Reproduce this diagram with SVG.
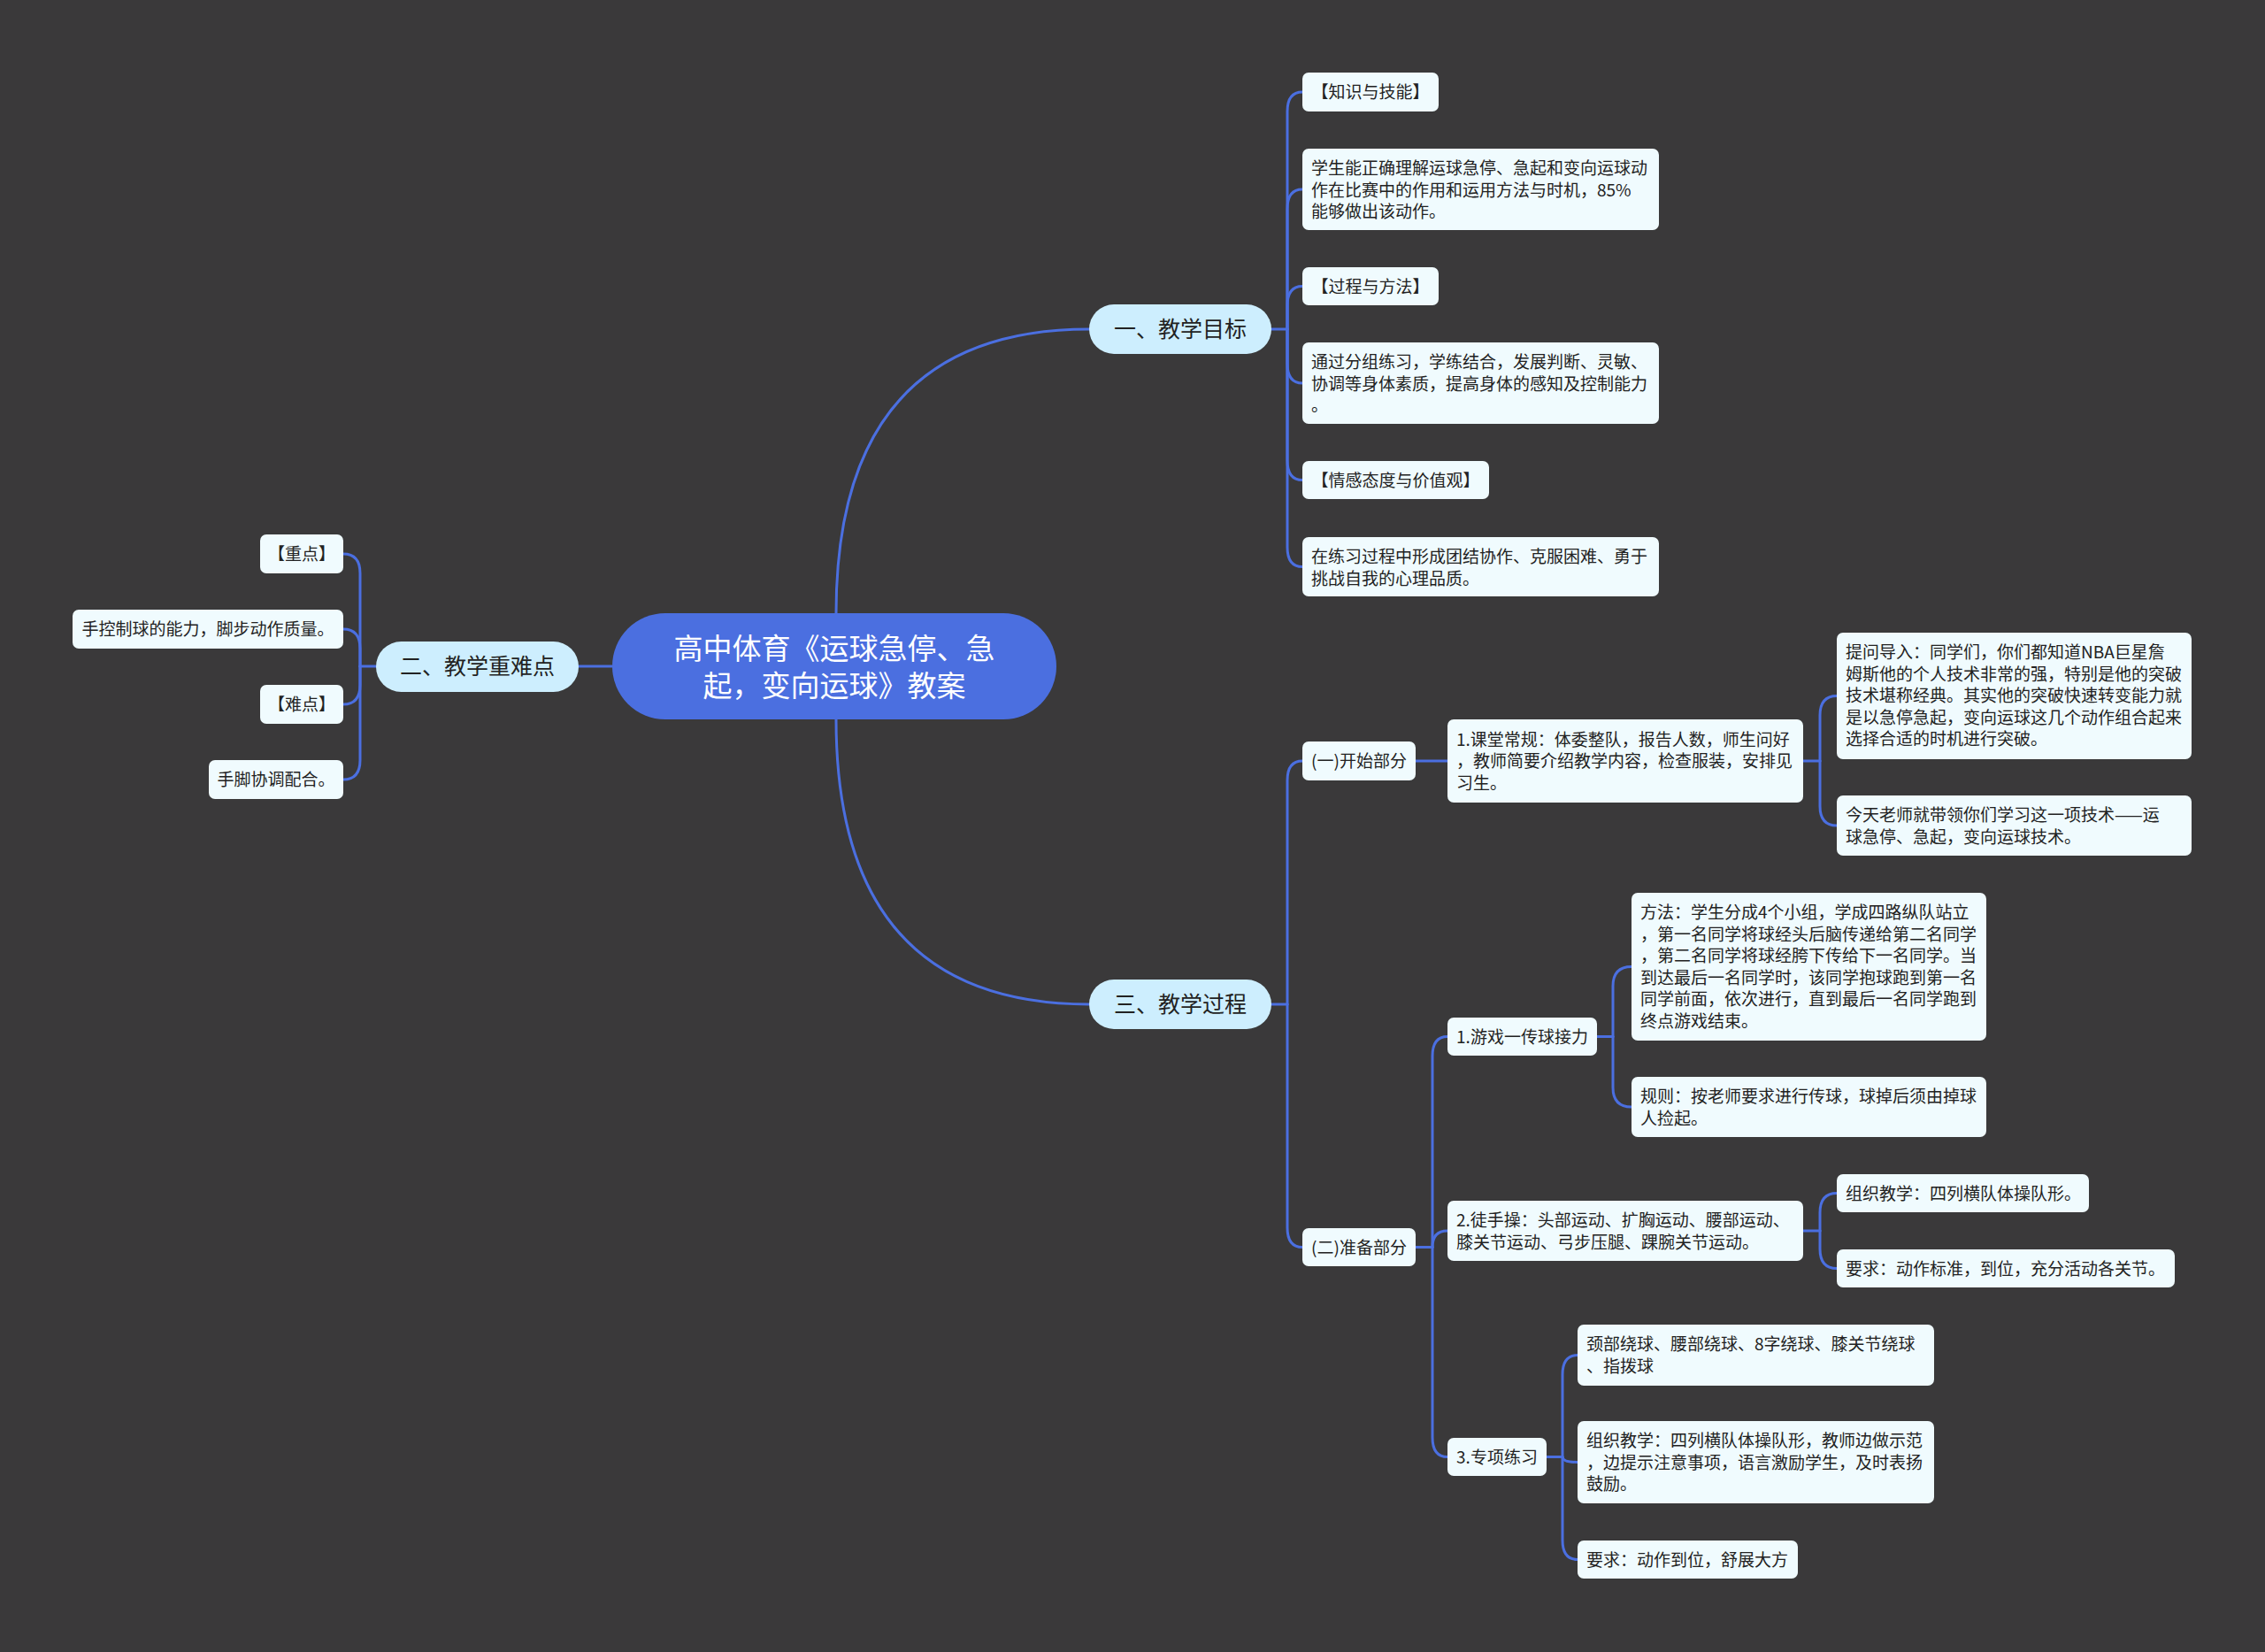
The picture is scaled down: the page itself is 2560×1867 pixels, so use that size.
<svg xmlns="http://www.w3.org/2000/svg" width="2560" height="1867" viewBox="0 0 2560 1867">
<style>
.bg{fill:#3a393a}
.box{fill:#f0fbfe}
.pill{fill:#cdeefe}
.root{fill:#4b6fe0}
.t{font-family:"Noto Sans CJK SC","Noto Sans",sans-serif;font-size:19px;fill:#222}
.c{text-anchor:middle}
.tp{font-family:"Noto Sans CJK SC","Noto Sans",sans-serif;font-size:25px;fill:#222;text-anchor:middle}
.tr{font-family:"Noto Sans CJK SC","Noto Sans",sans-serif;font-size:33px;fill:#fff;text-anchor:middle}
.ln{fill:none;stroke:#4b6fe0;stroke-width:3;stroke-linecap:round}
</style>
<rect class="bg" x="0" y="0" width="2560" height="1867"/>
<g id="connectors" class="ln">
<path d="M945,693 Q945,372 1231,372"/>
<path d="M945,813 Q945,1135 1231,1135"/>
<path d="M692,753 H654"/>
<path d="M1437,372 H1455"/>
<path d="M1455,372 V126 Q1455,104 1472,104"/>
<path d="M1455,372 V236 Q1455,214 1472,214"/>
<path d="M1455,372 V345.5 Q1455,323.5 1472,323.5"/>
<path d="M1455,372 V411 Q1455,433 1472,433"/>
<path d="M1455,372 V520.5 Q1455,542.5 1472,542.5"/>
<path d="M1455,372 V618.5 Q1455,640.5 1472,640.5"/>
<path d="M425,753 H407"/>
<path d="M407,753 V648 Q407,626 388,626"/>
<path d="M407,753 V733 Q407,711 388,711"/>
<path d="M407,753 V774 Q407,796 388,796"/>
<path d="M407,753 V859 Q407,881 388,881"/>
<path d="M1437,1135 H1455"/>
<path d="M1455,1135 V882 Q1455,860 1472,860"/>
<path d="M1455,1135 V1387.5 Q1455,1409.5 1472,1409.5"/>
<path d="M1600,860 H1636"/>
<path d="M2038,860 H2057"/>
<path d="M2057,860 V808.5 Q2057,786.5 2076,786.5"/>
<path d="M2057,860 V911 Q2057,933 2076,933"/>
<path d="M1600,1409.5 H1619"/>
<path d="M1619,1409.5 V1193.5 Q1619,1171.5 1636,1171.5"/>
<path d="M1619,1409.5 Q1619,1391 1636,1391"/>
<path d="M1619,1409.5 V1624.5 Q1619,1646.5 1636,1646.5"/>
<path d="M1805,1171.5 H1823"/>
<path d="M1823,1171.5 V1114.5 Q1823,1092.5 1844,1092.5"/>
<path d="M1823,1171.5 V1229 Q1823,1251 1844,1251"/>
<path d="M2038,1391 H2057"/>
<path d="M2057,1391 V1370.5 Q2057,1348.5 2076,1348.5"/>
<path d="M2057,1391 V1411.5 Q2057,1433.5 2076,1433.5"/>
<path d="M1748,1646.5 H1766"/>
<path d="M1766,1646.5 V1553.5 Q1766,1531.5 1783,1531.5"/>
<path d="M1766,1646.5 Q1766,1652.5 1783,1652.5"/>
<path d="M1766,1646.5 V1740.5 Q1766,1762.5 1783,1762.5"/>
</g>
<g id="root">
<rect class="root" x="692" y="693" width="502" height="120" rx="60"/>
<text class="tr"><tspan x="943" y="744.5">高中体育《运球急停、急</tspan><tspan x="943" y="786.5">起，变向运球》教案</tspan></text>
</g>
<g id="n1">
<rect class="pill" x="1231" y="344" width="206" height="56" rx="28"/>
<text class="tp" x="1334" y="381">一、教学目标</text>
</g>
<g id="n2">
<rect class="pill" x="425" y="725" width="229" height="57" rx="28.5"/>
<text class="tp" x="539.5" y="762">二、教学重难点</text>
</g>
<g id="n3">
<rect class="pill" x="1231" y="1107" width="206" height="56" rx="28"/>
<text class="tp" x="1334" y="1144">三、教学过程</text>
</g>
<g id="n1-1">
<rect class="box" x="1472" y="82" width="154" height="44" rx="7"/>
<text class="t c" x="1549" y="111">【知识与技能】</text>
</g>
<g id="n1-2">
<rect class="box" x="1472" y="168" width="403" height="92" rx="7"/>
<text class="t" x="1482" y="197">学生能正确理解运球急停、急起和变向运球动</text>
<text class="t" x="1482" y="221.6">作在比赛中的作用和运用方法与时机，85%</text>
<text class="t" x="1482" y="246.2">能够做出该动作。</text>
</g>
<g id="n1-3">
<rect class="box" x="1472" y="302" width="154" height="43" rx="7"/>
<text class="t c" x="1549" y="330.5">【过程与方法】</text>
</g>
<g id="n1-4">
<rect class="box" x="1472" y="387" width="403" height="92" rx="7"/>
<text class="t" x="1482" y="416">通过分组练习，学练结合，发展判断、灵敏、</text>
<text class="t" x="1482" y="440.6">协调等身体素质，提高身体的感知及控制能力</text>
<text class="t" x="1482" y="465.2">。</text>
</g>
<g id="n1-5">
<rect class="box" x="1472" y="521" width="211" height="43" rx="7"/>
<text class="t c" x="1577.5" y="549.5">【情感态度与价值观】</text>
</g>
<g id="n1-6">
<rect class="box" x="1472" y="607" width="403" height="67" rx="7"/>
<text class="t" x="1482" y="636">在练习过程中形成团结协作、克服困难、勇于</text>
<text class="t" x="1482" y="660.6">挑战自我的心理品质。</text>
</g>
<g id="n2-1">
<rect class="box" x="294" y="604" width="94" height="44" rx="7"/>
<text class="t c" x="341" y="633">【重点】</text>
</g>
<g id="n2-2">
<rect class="box" x="82" y="689" width="306" height="44" rx="7"/>
<text class="t c" x="235" y="718">手控制球的能力，脚步动作质量。</text>
</g>
<g id="n2-3">
<rect class="box" x="294" y="774" width="94" height="44" rx="7"/>
<text class="t c" x="341" y="803">【难点】</text>
</g>
<g id="n2-4">
<rect class="box" x="236" y="859" width="152" height="44" rx="7"/>
<text class="t c" x="312" y="888">手脚协调配合。</text>
</g>
<g id="n3-1">
<rect class="box" x="1472" y="838" width="128" height="44" rx="7"/>
<text class="t c" x="1536" y="867">(一)开始部分</text>
</g>
<g id="n3-1-1">
<rect class="box" x="1636" y="813" width="402" height="94" rx="7"/>
<text class="t" x="1646" y="842.5">1.课堂常规：体委整队，报告人数，师生问好</text>
<text class="t" x="1646" y="867.3">，教师简要介绍教学内容，检查服装，安排见</text>
<text class="t" x="1646" y="892.1">习生。</text>
</g>
<g id="n3-1-1-1">
<rect class="box" x="2076" y="715" width="401" height="143" rx="7"/>
<text class="t" x="2086" y="744">提问导入：同学们，你们都知道NBA巨星詹</text>
<text class="t" x="2086" y="768.6">姆斯他的个人技术非常的强，特别是他的突破</text>
<text class="t" x="2086" y="793.2">技术堪称经典。其实他的突破快速转变能力就</text>
<text class="t" x="2086" y="817.8">是以急停急起，变向运球这几个动作组合起来</text>
<text class="t" x="2086" y="842.4">选择合适的时机进行突破。</text>
</g>
<g id="n3-1-1-2">
<rect class="box" x="2076" y="899" width="401" height="68" rx="7"/>
<text class="t" x="2086" y="928">今天老师就带领你们学习这一项技术——运</text>
<text class="t" x="2086" y="952.6">球急停、急起，变向运球技术。</text>
</g>
<g id="n3-2">
<rect class="box" x="1472" y="1388" width="128" height="43" rx="7"/>
<text class="t c" x="1536" y="1416.5">(二)准备部分</text>
</g>
<g id="n3-2-1">
<rect class="box" x="1636" y="1150" width="169" height="43" rx="7"/>
<text class="t c" x="1720.5" y="1178.5">1.游戏一传球接力</text>
</g>
<g id="n3-2-1-1">
<rect class="box" x="1844" y="1009" width="401" height="167" rx="7"/>
<text class="t" x="1854" y="1038">方法：学生分成4个小组，学成四路纵队站立</text>
<text class="t" x="1854" y="1062.6">，第一名同学将球经头后脑传递给第二名同学</text>
<text class="t" x="1854" y="1087.2">，第二名同学将球经胯下传给下一名同学。当</text>
<text class="t" x="1854" y="1111.8">到达最后一名同学时，该同学抱球跑到第一名</text>
<text class="t" x="1854" y="1136.4">同学前面，依次进行，直到最后一名同学跑到</text>
<text class="t" x="1854" y="1161">终点游戏结束。</text>
</g>
<g id="n3-2-1-2">
<rect class="box" x="1844" y="1217" width="401" height="68" rx="7"/>
<text class="t" x="1854" y="1246">规则：按老师要求进行传球，球掉后须由掉球</text>
<text class="t" x="1854" y="1270.6">人捡起。</text>
</g>
<g id="n3-2-2">
<rect class="box" x="1636" y="1357" width="402" height="68" rx="7"/>
<text class="t" x="1646" y="1386">2.徒手操：头部运动、扩胸运动、腰部运动、</text>
<text class="t" x="1646" y="1410.6">膝关节运动、弓步压腿、踝腕关节运动。</text>
</g>
<g id="n3-2-2-1">
<rect class="box" x="2076" y="1327" width="285" height="43" rx="7"/>
<text class="t" x="2086" y="1355.5">组织教学：四列横队体操队形。</text>
</g>
<g id="n3-2-2-2">
<rect class="box" x="2076" y="1412" width="382" height="43" rx="7"/>
<text class="t" x="2086" y="1440.5">要求：动作标准，到位，充分活动各关节。</text>
</g>
<g id="n3-2-3">
<rect class="box" x="1636" y="1625" width="112" height="43" rx="7"/>
<text class="t c" x="1692" y="1653.5">3.专项练习</text>
</g>
<g id="n3-2-3-1">
<rect class="box" x="1783" y="1497" width="403" height="69" rx="7"/>
<text class="t" x="1793" y="1526">颈部绕球、腰部绕球、8字绕球、膝关节绕球</text>
<text class="t" x="1793" y="1550.6">、指拨球</text>
</g>
<g id="n3-2-3-2">
<rect class="box" x="1783" y="1606" width="403" height="93" rx="7"/>
<text class="t" x="1793" y="1635">组织教学：四列横队体操队形，教师边做示范</text>
<text class="t" x="1793" y="1659.6">，边提示注意事项，语言激励学生，及时表扬</text>
<text class="t" x="1793" y="1684.2">鼓励。</text>
</g>
<g id="n3-2-3-3">
<rect class="box" x="1783" y="1741" width="249" height="43" rx="7"/>
<text class="t" x="1793" y="1769.5">要求：动作到位，舒展大方</text>
</g>
</svg>
